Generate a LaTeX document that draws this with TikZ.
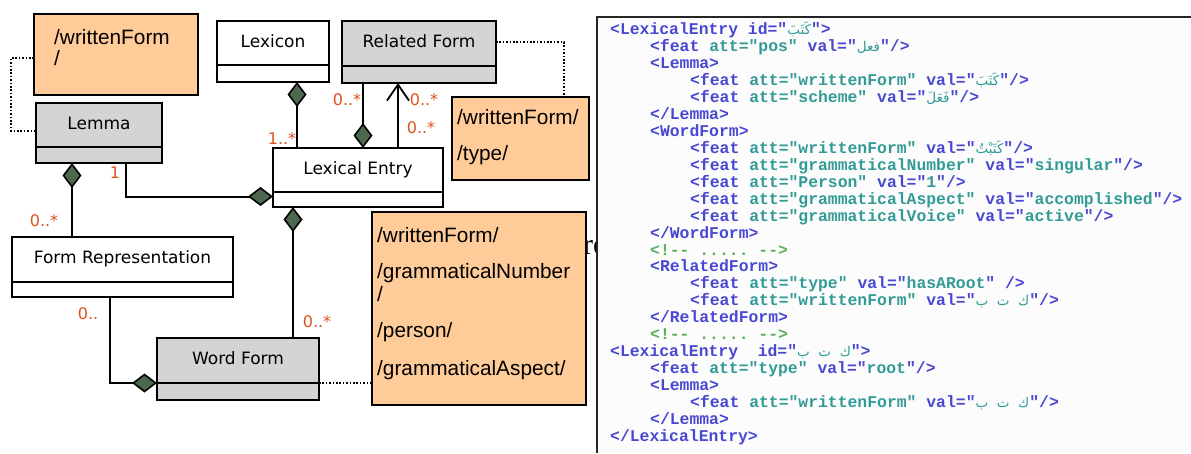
\documentclass[tikz,border=0pt]{standalone}
\usepackage{fontspec}
\usetikzlibrary{arrows.meta,calc}
\TeXXeTstate=1
\newfontfamily\clsfont{DejaVu Sans}
\newfontfamily\notefont{Liberation Sans}
\newfontfamily\codefont{Liberation Mono}
\newfontfamily\arabicfont[Script=Arabic]{DejaVu Sans}
\newfontfamily\strayfont{Liberation Serif}

\definecolor{noteorange}{RGB}{255,204,153}
\definecolor{clsgray}{RGB}{212,212,212}
\definecolor{dgreen}{RGB}{76,104,78}
\definecolor{multred}{RGB}{222,82,30}
\definecolor{xmlblue}{RGB}{72,72,210}
\definecolor{xmlteal}{RGB}{50,155,150}
\definecolor{xmlgreen}{RGB}{90,175,90}
\definecolor{panelbg}{RGB}{252,252,253}

% XML syntax colouring
\newcommand\cdB[1]{\textcolor{xmlblue}{#1}}
\newcommand\cdT[1]{\textcolor{xmlteal}{#1}}
\newcommand\cdG[1]{\textcolor{xmlgreen}{#1}}
\newcommand\cdA[1]{\textcolor{xmlteal}{\arabicfont\mdseries\fontsize{13.5}{15}\selectfont\beginR #1\endR}}

\begin{document}
\begin{tikzpicture}[x=1pt,y=-1pt,
  cls/.style={draw=black, line width=2pt, inner sep=0pt, outer sep=0pt,
    font=\clsfont\fontsize{17}{20}\selectfont, text height=12pt, text depth=4pt},
  clsW/.style={cls, fill=white},
  clsG/.style={cls, fill=clsgray},
  clsB/.style={text height=0pt, text depth=0pt, anchor=north},
  note/.style={draw=black, line width=2pt, fill=noteorange, inner sep=0pt,
    outer sep=0pt, anchor=north west},
  notetxt/.style={anchor=base west, inner sep=0pt,
    font=\notefont\fontsize{20.8}{24}\selectfont},
  mult/.style={text=multred, inner sep=0pt, font=\clsfont\fontsize{16}{18}\selectfont},
  link/.style={draw=black, line width=2pt},
  dotline/.style={draw=black, line width=1.6pt, dash pattern=on 1.6pt off 1.8pt},
  comp/.style={arrows={Diamond[length=25pt,width=19pt,fill=dgreen,line width=1.6pt]-}},
  codeline/.style={anchor=base west, inner sep=0pt,
    font=\codefont\bfseries\fontsize{16.4}{18}\selectfont}
]
\useasboundingbox[fill=white] (0,0) rectangle (1191,453);

% ---------- XML listing panel ----------
\fill[panelbg] (597,17) rectangle (1191,453);
\draw[line width=2.5pt, color=black!85] (597,453) -- (597,17) -- (1191,17);

\node[codeline] (x01) at (610,34) {\cdB{<LexicalEntry\ id="}\cdA{كَتَبَ}\cdB{">}};
\node[codeline] (x02) at (650,51) {\cdB{<feat\ }\cdT{att="pos"}\cdB{\ val="}\cdA{فعل}\cdB{"/>}};
\node[codeline] (x03) at (650,68) {\cdB{<Lemma>}};
\node[codeline] (x04) at (690,85) {\cdB{<feat\ }\cdT{att="writtenForm"}\cdB{\ val="}\cdA{كَتَبَ}\cdB{"/>}};
\node[codeline] (x05) at (690,102) {\cdB{<feat\ }\cdT{att="scheme"}\cdB{\ val="}\cdA{فَعَلَ}\cdB{"/>}};
\node[codeline] (x06) at (650,119) {\cdB{</Lemma>}};
\node[codeline] (x07) at (650,136) {\cdB{<WordForm>}};
\node[codeline] (x08) at (690,153) {\cdB{<feat\ }\cdT{att="writtenForm"}\cdB{\ val="}\cdA{كَتَبْتُ}\cdB{"/>}};
\node[codeline] (x09) at (690,170) {\cdB{<feat\ }\cdT{att="grammaticalNumber"}\cdB{\ val="}\cdT{singular}\cdB{"/>}};
\node[codeline] (x10) at (690,187) {\cdB{<feat\ }\cdT{att="Person"}\cdB{\ val="}\cdT{1}\cdB{"/>}};
\node[codeline] (x11) at (690,204) {\cdB{<feat\ }\cdT{att="grammaticalAspect"}\cdB{\ val="}\cdT{accomplished}\cdB{"/>}};
\node[codeline] (x12) at (690,221) {\cdB{<feat\ }\cdT{att="grammaticalVoice"}\cdB{\ val="}\cdT{active}\cdB{"/>}};
\node[codeline] (x13) at (650,238) {\cdB{</WordForm>}};
\node[codeline] (x14) at (650,255) {\cdG{<!-{}-\ .....\ -{}->}};
\node[codeline] (x15) at (650,271) {\cdB{<RelatedForm>}};
\node[codeline] (x16) at (690,288) {\cdB{<feat\ }\cdT{att="type"}\cdB{\ val="}\cdT{hasARoot}\cdB{"\ />}};
\node[codeline] (x17) at (690,305) {\cdB{<feat\ }\cdT{att="writtenForm"}\cdB{\ val="}\cdA{ك\ \ ت\ \ ب}\cdB{"/>}};
\node[codeline] (x18) at (650,322) {\cdB{</RelatedForm>}};
\node[codeline] (x19) at (650,339) {\cdG{<!-{}-\ .....\ -{}->}};
\node[codeline] (x20) at (610,356) {\cdB{<LexicalEntry\ \ id="}\cdA{ك\ \ ت\ \ ب}\cdB{">}};
\node[codeline] (x21) at (650,373) {\cdB{<feat\ }\cdT{att="type"}\cdB{\ val="}\cdT{root}\cdB{"/>}};
\node[codeline] (x22) at (650,390) {\cdB{<Lemma>}};
\node[codeline] (x23) at (690,407) {\cdB{<feat\ }\cdT{att="writtenForm"}\cdB{\ val="}\cdA{ك\ \ ت\ \ ب}\cdB{"/>}};
\node[codeline] (x24) at (650,424) {\cdB{</Lemma>}};
\node[codeline] (x25) at (610,441) {\cdB{</LexicalEntry>}};

% clipped stray caption fragment next to the panel
\begin{scope}
  \clip (583,230) rectangle (595.5,262);
  \node[anchor=base west, inner sep=0pt, font=\strayfont\fontsize{30}{32}\selectfont] (stray) at (583,254) {re};
\end{scope}

% ---------- notes ----------
\node[note, minimum width=164pt, minimum height=81pt] (lemmaNote) at (34,14) {};
\node[notetxt] (lemmaNoteA) at (54,44) {/writtenForm};
\node[notetxt] (lemmaNoteB) at (54,65) {/};

\node[note, minimum width=137pt, minimum height=83pt] (rfNote) at (452,97) {};
\node[notetxt] (rfNoteA) at (457,124) {/writtenForm/};
\node[notetxt] (rfNoteB) at (457,160) {/type/};

\node[note, minimum width=214pt, minimum height=193pt] (wfNote) at (372,212) {};
\node[notetxt] (wfNoteA) at (377,242) {/writtenForm/};
\node[notetxt] (wfNoteB) at (377,278) {/grammaticalNumber};
\node[notetxt] (wfNoteC) at (377,301) {/};
\node[notetxt] (wfNoteD) at (377,337) {/person/};
\node[notetxt] (wfNoteE) at (377,375) {/grammaticalAspect/};

% ---------- classes ----------
\node[clsG, minimum width=126pt, minimum height=44pt] (lemma) at (99,125) {Lemma};
\node[clsG, clsB, minimum width=126pt, minimum height=16pt] (lemmaB) at (lemma.south) {};

\node[clsW, minimum width=112pt, minimum height=44pt] (lexicon) at (273,43) {Lexicon};
\node[clsW, clsB, minimum width=112pt, minimum height=17pt] (lexiconB) at (lexicon.south) {};

\node[clsG, minimum width=154pt, minimum height=45pt] (rel) at (419,43.5) {Related Form};
\node[clsG, clsB, minimum width=154pt, minimum height=17pt] (relB) at (rel.south) {};

\node[clsW, minimum width=170pt, minimum height=44pt] (le) at (358,170) {Lexical Entry};
\node[clsW, clsB, minimum width=170pt, minimum height=15pt] (leB) at (le.south) {};

\node[clsW, minimum width=221pt, minimum height=45pt] (formrep) at (122.5,259.5) {Form Representation};
\node[clsW, clsB, minimum width=221pt, minimum height=15pt] (formrepB) at (formrep.south) {};

\node[clsG, minimum width=162pt, minimum height=45pt] (wf) at (238,360.5) {Word Form};
\node[clsG, clsB, minimum width=162pt, minimum height=17pt] (wfB) at (wf.south) {};

% ---------- note links ----------
\draw[dotline] ([yshift=-3.5pt]lemmaNote.west) -- ++(-23,0) |- ([yshift=-6pt]lemma.west);
\draw[dotline] ([yshift=1.5pt]rel.east) -| ([xshift=43.5pt]rfNote.north);
\draw[dotline] (wf.south east) -- (wf.south east -| wfNote.west);

% ---------- associations ----------
\coordinate (jLex) at ([xshift=24pt]lexiconB.south);
\draw[link,comp] (jLex) -- (jLex |- le.north);

\coordinate (jRelC) at ([xshift=5pt]le.north);
\draw[link,comp] (jRelC) -- (jRelC |- relB.south);

\coordinate (jRelA) at ([xshift=40pt]le.north);
\draw[link,-{Straight Barb[length=16pt,width=22pt,line width=1.8pt]}] (jRelA) -- (jRelA |- relB.south);

\coordinate (jLemLE) at ([xshift=27pt]lemmaB.south);
\coordinate (jLE) at ([yshift=3pt]leB.west);
\draw[link,comp] (jLE) -| (jLemLE);

\coordinate (jLemFR) at ([xshift=-27pt]lemmaB.south);
\draw[link,comp] (jLemFR) -- (jLemFR |- formrep.north);

\coordinate (jLEWF) at ([xshift=-65pt]leB.south);
\draw[link,comp] (jLEWF) -- (jLEWF |- wf.north);

\coordinate (jFR) at ([xshift=-12.5pt]formrepB.south);
\draw[link,comp] (wf.south west) -| (jFR);

% ---------- multiplicities ----------
\node[mult] (mLex) at (282,139) {1..*};
\node[mult] (mLemLE) at (115,173) {1};
\node[mult] (mLemFR) at (44,221) {0..*};
\node[mult] (mRelC) at (347,100) {0..*};
\node[mult] (mRelA1) at (424,100) {0..*};
\node[mult] (mRelA2) at (421,128) {0..*};
\node[mult] (mWF) at (317,322) {0..*};
\node[mult] (mFR) at (88,314) {0..};
\end{tikzpicture}
\end{document}
